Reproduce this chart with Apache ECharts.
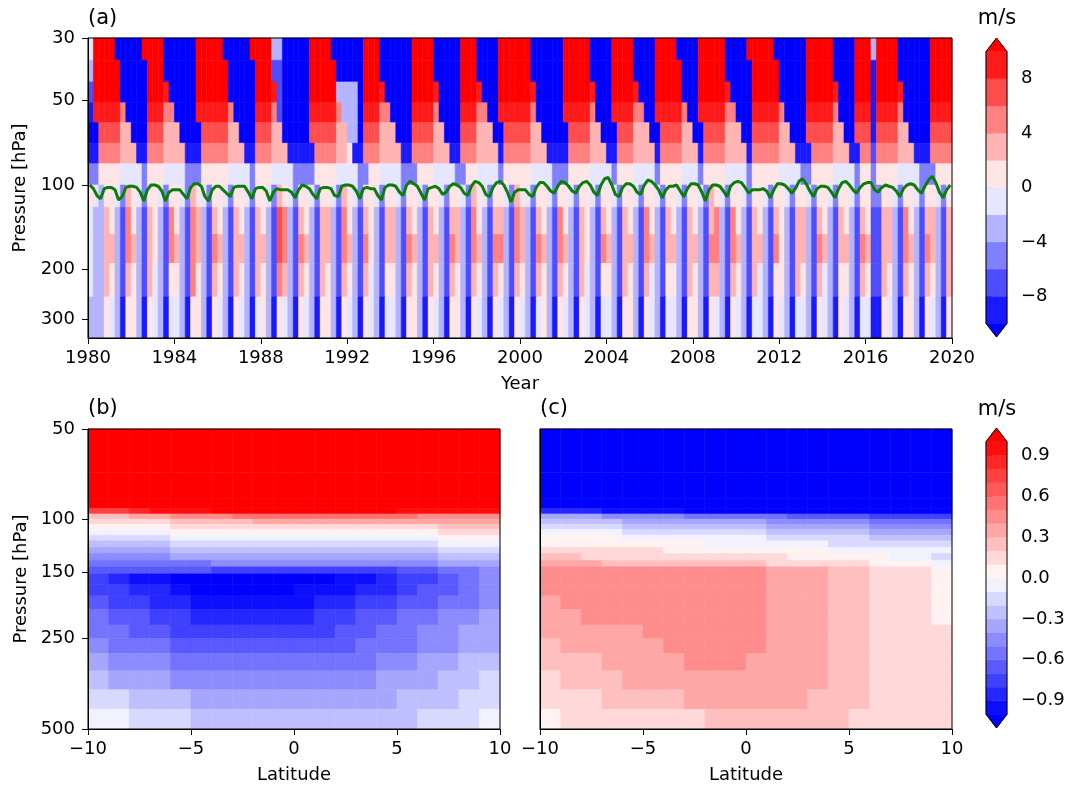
<!DOCTYPE html>
<html>
<head>
<meta charset="utf-8">
<script src="https://cdn.jsdelivr.net/npm/echarts@6.0.0/dist/echarts.min.js"></script>
<style>
  html, body { margin: 0; padding: 0; background: #ffffff; }
  #chart { width: 1071px; height: 786px; }
</style>
</head>
<body>
<div id="chart"></div>
<script>
// ================= panel (a): zonal wind 1980-2019 =================
// one char per quarter year, groups of 4 = one year
// char index in codesA -> wind -11 + 2*i  ('0' below -10 m/s, 'b' above 10 m/s)
var codesA = '0123456789ab';
var pressEdgesA = [30, 36, 43, 51, 60, 71, 84, 100, 120, 150, 190, 250, 350];
var firstYear = 1980;
var quartersPerYear = 4;
var windA = [
  '5bbb b000 00bb bb00 0000 bbbb b000 00bb bb44 0000 0bbb b000 000b bb00 0000 bbbb 0000 0bbb 0000 bbbb bb00 0000 bbbb b000 0bbb b000 0bbb b000 0bbb bb00 00bb bbb0 0000 0bbb bb00 00bb b4bb bb00 0000 bbbb',
  '4bbb bb00 000b bb00 0000 bbbb bb00 000b bb22 0000 0bbb bb00 000b bb00 0000 bbbb 0000 0bbb 0000 bbbb bb00 0000 bbbb b000 0bbb b000 0bbb bb00 0bbb bb00 000b bbbb 0000 0bbb bb00 00bb b1bb bb00 0000 bbbb',
  '2bbb bb00 000b bba0 0000 bbbb bb00 000b bba2 0000 0bbb bb44 440b bba0 0000 bbbb a000 0bbb a000 bbbb bba0 0000 bbbb ba00 0bbb ba00 0bbb bb00 0bbb bba0 000b bbbb 0000 0bbb bba0 00bb b1bb bba0 0000 bbbb',
  '1aaa aa80 000a aa88 0000 aaaa aa80 000a aa82 0000 0aaa aa84 440a aa88 0000 aaaa 8000 0aaa 8800 aaaa aa80 0000 aaaa a800 0aaa a880 0aaa aa80 0aaa aa88 000a aaaa 8000 0aaa aa80 00aa a1aa aa80 0000 aaaa',
  '0099 9977 0009 9977 7000 0999 9977 0009 9977 0000 0999 9977 4409 9977 7000 9999 7700 0999 7770 0999 9977 0000 0999 9770 0099 9777 0099 9977 0099 9977 7009 9999 7700 0999 9977 0099 9199 9977 0000 9999',
  '1188 8877 7118 8877 7711 1888 8877 7118 8877 7111 1188 8877 6118 8877 7711 8888 7771 1888 7777 1888 8877 7111 1888 8777 1188 8777 7188 8877 7188 8877 7718 8888 7771 1188 8877 7118 8288 8877 7111 8888',
  '3366 6655 5536 6655 5533 3666 6655 5536 6655 5533 3366 6655 5533 6655 5533 3666 5555 3366 5555 3666 6655 5533 3666 6555 5366 6555 5366 6655 5366 6655 5536 6666 5555 3366 6655 5536 6366 6655 5533 3666',
  '6546 6537 6536 6536 6537 6536 6536 6536 6537 6536 6536 6537 6536 6536 6536 6536 6536 6537 6536 6537 6536 6536 6536 6536 6536 6536 6536 6536 6537 6536 6536 6536 6536 6536 6536 6536 6336 6536 6536 6536',
  '5447 6428 6427 6428 6428 7427 6427 6427 6429 8427 6427 7428 6427 6427 7427 6427 6427 7428 6427 7428 7427 6428 6427 6427 6427 6428 6427 6427 6427 8428 6427 6427 6427 7427 6427 6427 6227 7428 6427 7427',
  '5447 7428 7427 6428 7428 7428 7427 7427 7429 8428 7427 7428 7428 6427 7428 7427 7428 7428 7428 8428 7428 7428 7427 6428 7427 7428 7427 7427 7428 8428 7427 7428 6427 7428 7427 7428 7227 7428 7428 7427',
  '5447 6427 6427 5426 6428 6427 6427 6427 6428 7427 6427 6427 6427 5426 6427 6427 6427 6427 6427 6427 6427 6427 6427 5426 6427 6427 5426 6427 6427 7427 6427 5426 6427 6427 5426 6427 6227 6427 6427 6427',
  '4446 5416 6416 5415 5416 6416 5416 5415 6416 5416 5416 6416 5416 5415 5416 6416 5416 6416 5416 5416 5415 6416 5416 5415 5416 6416 5415 5416 6416 5416 5415 5416 5415 5416 5416 5415 5116 5416 6416 5416'
];

// green line: tropopause pressure [hPa], 6 samples a year
var tropoYearFrac = [0.083, 0.25, 0.417, 0.583, 0.75, 0.917];
var tropoP = [
  [100, 103, 109, 112, 103, 102], [102, 104, 113, 110, 102, 101], [101, 102, 106, 114, 104, 100],
  [100, 101, 105, 114, 106, 104], [104, 104, 108, 112, 102, 99],  [99, 101, 110, 114, 104, 101],
  [101, 104, 107, 110, 102, 101], [101, 101, 106, 112, 103, 102], [102, 105, 114, 106, 103, 104],
  [104, 104, 106, 111, 104, 100], [101, 103, 108, 112, 103, 102], [102, 103, 109, 110, 101, 100],
  [100, 101, 105, 112, 103, 102], [103, 103, 109, 113, 102, 100], [100, 101, 106, 109, 100, 97],
  [99, 101, 107, 113, 103, 102],  [101, 103, 108, 106, 101, 99],  [100, 102, 107, 109, 101, 97],
  [98, 101, 108, 110, 102, 98],   [97, 100, 106, 115, 106, 104],  [104, 104, 108, 110, 102, 98],
  [98, 101, 105, 107, 101, 97],   [98, 101, 105, 107, 101, 98],   [97, 100, 106, 109, 100, 95],
  [94, 100, 108, 110, 102, 99],   [99, 101, 106, 108, 100, 96],   [97, 100, 104, 111, 104, 101],
  [101, 100, 105, 110, 103, 99],  [99, 100, 106, 114, 104, 100],  [100, 101, 105, 110, 101, 98],
  [97, 98, 102, 107, 104, 104],   [104, 103, 105, 111, 104, 99],  [99, 100, 103, 107, 103, 97],
  [95, 99, 105, 110, 103, 101],   [101, 102, 106, 111, 103, 98],  [97, 100, 104, 107, 102, 99],
  [98, 98, 104, 106, 102, 100],   [101, 102, 105, 110, 103, 100], [99, 100, 104, 107, 101, 96],
  [93, 98, 106, 111, 104, 100]
];

// ================= panels (b) and (c): latitude-pressure =================
// char index in codesBC -> value -1.05 + 0.1*i  ('0' below -1, 'l' above 1)
var codesBC = '0123456789abcdefghijkl';
var latEdges = [-10, -9, -8, -7, -6, -5, -4, -3, -2, -1, 0, 1, 2, 3, 4, 5, 6, 7, 8, 9, 10];
var pressEdgesBC = [50, 70, 85, 92, 96, 100, 104, 108, 113, 118, 124, 130, 137, 144, 152, 165, 180, 200, 225, 250, 280, 320, 370, 430, 500];
var fieldB = [
  'llllllllllllllllllll', 'llllllllllllllllllll', 'llllllllllllllllllll',
  'iijkkklllllllllkkkkk', 'ddeefffgggggggggffff', 'ccccddddeeeeeeeeeeee',
  'bbbbcccccccccccccddd', 'aaaabbbbbbbbbbbbbccc', '9999aaaaaaaaaaaaabbb',
  '88889999999999999aaa', '77778888888888888999', '66667777777777777888',
  '55555566666666666777', '44444433333333344556', '32110000000011233456',
  '33221000001112234456', '43322111111223344556', '54433222222334455667',
  '55443333333344556677', '65554444444445556677', '76665555555555667788',
  '87776666666666777889', '99888777777777788899', 'aa99988888888888999a'
];
var fieldC = [
  '00000000000000000000', '00000000000000000000', '00000000000000000000',
  '22211110000000000000', '77766665555544443333', '88887777777666665555',
  '99998888888777776666', 'aaaa9999999888887777', 'bbbbaaaaaaa999998888',
  'bbbbbbbbaaaaaa999999', 'ccccccbbbbbbbbaaaaaa', 'ddccccccccccbbbbbaa9',
  'eeeddddddddcccccbbba', 'fffffffffffeeeddcccb', 'fffffffffffeeeddcccb',
  'fffffffffffeeeddcccb', 'effffffffffeeeddcccb', 'eefffffffffeeeddcccb',
  'eeeeeffffffeeeddcccc', 'deeeeefffffeeeddcccc', 'dddeeeefffeeeeddcccc',
  'cdddeeeeeeeeeeddcccc', 'cccddddeeeeeedddcccc', 'bcccccccdddddddccccc'
];

// contour levels and colorbar ticks
var levelsA = [-10, -8, -6, -4, -2, 0, 2, 4, 6, 8, 10];
var levelsBC = [-1.0, -0.9, -0.8, -0.7, -0.6, -0.5, -0.4, -0.3, -0.2, -0.1, 0.0, 0.1, 0.2, 0.3, 0.4, 0.5, 0.6, 0.7, 0.8, 0.9, 1.0];
var ticksA = [-8, -4, 0, 4, 8];
var ticksBC = [-0.9, -0.6, -0.3, 0.0, 0.3, 0.6, 0.9];
var pressTicksA = [30, 50, 100, 200, 300];
var pressTicksBC = [50, 100, 150, 250, 500];

// ---------------------------------------------------------------
var FONT = 'DejaVu Sans';
var FS = 18;

function bwr(t) {
  var r, g, b;
  if (t < 0.5) { r = g = Math.round(510 * t); b = 255; }
  else { r = 255; g = b = Math.round(510 * (1 - t)); }
  return 'rgb(' + r + ',' + g + ',' + b + ')';
}
function levelColor(v, levels) {
  var n = levels.length - 1;
  if (v < levels[0]) return bwr(0);
  if (v >= levels[n]) return bwr(1);
  for (var k = 0; k < n; k++) {
    if (v < levels[k + 1]) return bwr((k + 0.5) / n);
  }
  return bwr(1);
}
function minus(s) { return String(s).replace('-', '\u2212'); }

// cells for panel (a)
var cellsA = [];
windA.forEach(function (row, r) {
  var s = row.replace(/ /g, '');
  for (var q = 0; q < s.length; q++) {
    cellsA.push([firstYear + q / quartersPerYear, firstYear + (q + 1) / quartersPerYear,
      pressEdgesA[r], pressEdgesA[r + 1], -11 + 2 * codesA.indexOf(s[q])]);
  }
});

var tropoLine = [];
tropoP.forEach(function (yr, i) {
  yr.forEach(function (p, k) { tropoLine.push([firstYear + i + tropoYearFrac[k], p]); });
});

function cellsFrom(field) {
  var out = [];
  field.forEach(function (row, r) {
    for (var c = 0; c < row.length; c++) {
      out.push([latEdges[c], latEdges[c + 1], pressEdgesBC[r], pressEdgesBC[r + 1],
        -1.05 + 0.1 * codesBC.indexOf(row[c])]);
    }
  });
  return out;
}
var cellsB = cellsFrom(fieldB);
var cellsC = cellsFrom(fieldC);

function cellRender(levels) {
  return function (params, api) {
    var a = api.coord([api.value(0), api.value(2)]);
    var b = api.coord([api.value(1), api.value(3)]);
    var col = levelColor(api.value(4), levels);
    return {
      type: 'rect',
      shape: { x: Math.min(a[0], b[0]), y: Math.min(a[1], b[1]),
               width: Math.abs(b[0] - a[0]), height: Math.abs(b[1] - a[1]) },
      style: { fill: col, stroke: col, lineWidth: 0.6 }
    };
  };
}

// colorbar pieces: [y0, y1, t, kind]  kind 0 = band, 1 = extend triangle
function colorbarData(levels, ext) {
  var n = levels.length - 1, out = [];
  for (var k = 0; k < n; k++) out.push([levels[k], levels[k + 1], (k + 0.5) / n, 0]);
  out.push([levels[0], levels[0] - ext, 0, 1]);
  out.push([levels[n], levels[n] + ext, 1, 1]);
  return out;
}
function colorbarRender(params, api) {
  var y0 = api.value(0), y1 = api.value(1), col = bwr(api.value(2));
  if (api.value(3) === 1) {
    return { type: 'polygon', shape: { points: [api.coord([0, y0]), api.coord([1, y0]), api.coord([0.5, y1])] },
             style: { fill: col, stroke: col, lineWidth: 0.5 } };
  }
  var a = api.coord([0, y0]), b = api.coord([1, y1]);
  return { type: 'rect', shape: { x: a[0], y: Math.min(a[1], b[1]), width: b[0] - a[0], height: Math.abs(b[1] - a[1]) },
           style: { fill: col, stroke: col, lineWidth: 0.5 } };
}
function outlineRender(lo, hi, ext) {
  return function (params, api) {
    var pts = [[0, lo], [0.5, lo - ext], [1, lo], [1, hi], [0.5, hi + ext], [0, hi]].map(function (p) { return api.coord(p); });
    return { type: 'polygon', shape: { points: pts }, style: { fill: 'none', stroke: '#000', lineWidth: 1 } };
  };
}

var tickStyle = { show: true, length: 6, lineStyle: { color: '#000', width: 1 } };
var lineStyleAx = { show: true, onZero: false, lineStyle: { color: '#000', width: 1 } };
var labelBase = { color: '#000', fontSize: FS, fontFamily: FONT, margin: 11 };
var nameStyle = { color: '#000', fontSize: FS, fontFamily: FONT };

function xAxisVal(grid, min, max, interval, name, fmt) {
  return {
    type: 'value', gridIndex: grid, min: min, max: max, interval: interval,
    name: name, nameLocation: 'middle', nameGap: 37, nameTextStyle: nameStyle,
    axisLine: lineStyleAx, axisTick: tickStyle, splitLine: { show: false },
    axisLabel: Object.assign({}, labelBase, { formatter: fmt }), z: 10
  };
}
function yAxisLog(grid, min, max, ticks, showLabels) {
  return {
    type: 'log', logBase: 10, gridIndex: grid, min: min, max: max, inverse: true,
    name: showLabels ? 'Pressure [hPa]' : '', nameLocation: 'middle', nameRotate: 90, nameGap: 58,
    nameTextStyle: nameStyle,
    axisLine: lineStyleAx,
    axisTick: Object.assign({}, tickStyle, { show: showLabels, customValues: ticks }),
    axisLabel: Object.assign({}, labelBase, { show: showLabels, customValues: ticks, margin: 13,
      formatter: function (v) { return String(Math.round(v)); } }),
    splitLine: { show: false }, minorTick: { show: false }, z: 10
  };
}
function cbAxisY(grid, min, max, ticks, fmt) {
  return {
    type: 'value', gridIndex: grid, min: min, max: max, position: 'right',
    axisLine: { show: false },
    axisTick: Object.assign({}, tickStyle, { customValues: ticks }),
    axisLabel: Object.assign({}, labelBase, { customValues: ticks, formatter: fmt, margin: 14 }),
    splitLine: { show: false }
  };
}
function cbAxisX(grid) {
  return { type: 'value', gridIndex: grid, min: 0, max: 1, show: false };
}

function frame(x, y, w, h) {
  return { type: 'rect', z: 100, shape: { x: x, y: y, width: w, height: h },
           style: { fill: 'none', stroke: '#000', lineWidth: 1 } };
}
function label(x, y, txt, align) {
  return { type: 'text', z: 100, x: x, y: y,
           style: { text: txt, fill: '#000', font: '21px "' + FONT + '"', align: align, verticalAlign: 'middle' } };
}

var option = {
  animation: false,
  backgroundColor: '#ffffff',
  grid: [
    { left: 88, top: 38, width: 864, height: 300, outerBoundsMode: 'none' },
    { left: 88, top: 429, width: 412, height: 300, outerBoundsMode: 'none' },
    { left: 540, top: 429, width: 412, height: 300, outerBoundsMode: 'none' },
    { left: 986, top: 38, width: 21, height: 299, outerBoundsMode: 'none' },
    { left: 986, top: 428, width: 21, height: 300, outerBoundsMode: 'none' }
  ],
  xAxis: [
    xAxisVal(0, 1980, 2020, 4, 'Year', function (v) { return String(v); }),
    xAxisVal(1, -10, 10, 5, 'Latitude', function (v) { return minus(v); }),
    xAxisVal(2, -10, 10, 5, 'Latitude', function (v) { return minus(v); }),
    cbAxisX(3),
    cbAxisX(4)
  ],
  yAxis: [
    yAxisLog(0, 30, 350, pressTicksA, true),
    yAxisLog(1, 50, 500, pressTicksBC, true),
    yAxisLog(2, 50, 500, pressTicksBC, false),
    cbAxisY(3, -11, 11, ticksA, function (v) { return minus(v); }),
    cbAxisY(4, -1.1, 1.1, ticksBC, function (v) { return minus(v.toFixed(1)); })
  ],
  graphic: [
    frame(88, 38, 864, 300),
    frame(88, 429, 412, 300),
    frame(540, 429, 412, 300),
    label(88, 19, '(a)', 'left'),
    label(88, 409, '(b)', 'left'),
    label(540, 409, '(c)', 'left'),
    label(997, 19, 'm/s', 'center'),
    label(997, 410, 'm/s', 'center')
  ],
  series: [
    { type: 'custom', xAxisIndex: 0, yAxisIndex: 0, renderItem: cellRender(levelsA),
      data: cellsA, encode: { x: [0, 1], y: [2, 3] }, z: 2, silent: true },
    { type: 'line', xAxisIndex: 0, yAxisIndex: 0, data: tropoLine, showSymbol: false,
      lineStyle: { color: '#0a7d0a', width: 3 }, z: 5, silent: true },
    { type: 'custom', xAxisIndex: 1, yAxisIndex: 1, renderItem: cellRender(levelsBC),
      data: cellsB, encode: { x: [0, 1], y: [2, 3] }, z: 2, silent: true },
    { type: 'custom', xAxisIndex: 2, yAxisIndex: 2, renderItem: cellRender(levelsBC),
      data: cellsC, encode: { x: [0, 1], y: [2, 3] }, z: 2, silent: true },
    { type: 'custom', xAxisIndex: 3, yAxisIndex: 3, renderItem: colorbarRender,
      data: colorbarData(levelsA, 1), encode: { y: [0, 1] }, z: 2, silent: true },
    { type: 'custom', xAxisIndex: 3, yAxisIndex: 3, renderItem: outlineRender(-10, 10, 1),
      data: [[-10, 10]], encode: { y: [0, 1] }, z: 4, silent: true },
    { type: 'custom', xAxisIndex: 4, yAxisIndex: 4, renderItem: colorbarRender,
      data: colorbarData(levelsBC, 0.1), encode: { y: [0, 1] }, z: 2, silent: true },
    { type: 'custom', xAxisIndex: 4, yAxisIndex: 4, renderItem: outlineRender(-1, 1, 0.1),
      data: [[-1, 1]], encode: { y: [0, 1] }, z: 4, silent: true }
  ]
};

var chart = echarts.init(document.getElementById('chart'));
chart.setOption(option);
window.addEventListener('resize', chart.resize);
</script>
</body>
</html>
